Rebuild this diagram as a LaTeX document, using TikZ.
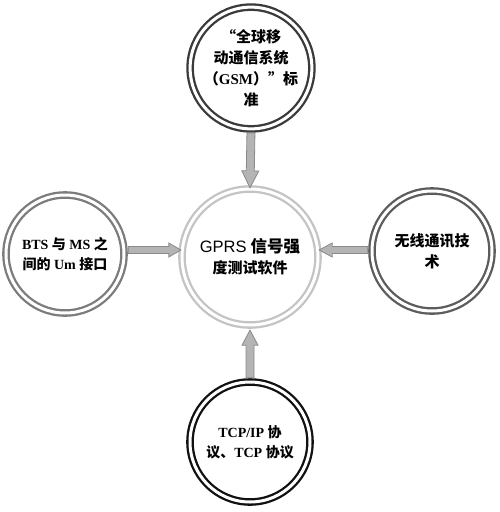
\documentclass[tikz,border=0pt]{standalone}
\usepackage{fontspec}
\setmainfont{Liberation Serif}
\newfontfamily\cjk{Noto Sans CJK SC}
\newfontfamily\gsans{Liberation Sans}
\usetikzlibrary{calc}
\tikzset{
  ringnode/.style={circle, inner sep=0pt, fill=white, double=white,
    double distance=3pt, line width=2.3pt, align=center,
    font=\fontsize{15pt}{21pt}\selectfont\bfseries},
  smalltext/.style={font=\fontsize{14pt}{20pt}\selectfont\bfseries},
  arrowfill/.style={fill=arrowgray, draw=arrowedge, line width=0.8pt, line join=miter},
}
\definecolor{arrowgray}{HTML}{B4B4B4}
\definecolor{arrowedge}{HTML}{8A8A8A}
\definecolor{ringtop}{HTML}{3A3A3A}
\definecolor{ringleft}{HTML}{7C7C7C}
\definecolor{ringright}{HTML}{5C5C5C}
\definecolor{ringbot}{HTML}{111111}
\definecolor{ringmid}{HTML}{C4C4C4}
% #1 from, #2 to, #3 shaft half width, #4 head half width, #5 head length
\newcommand\blockarr[5]{%
  \coordinate (s) at ($(#1)!3pt!(#2)$);
  \coordinate (hb) at ($(#2)!#5!(#1)$);
  \filldraw[arrowfill] ($(s)!#3!90:(#2)$) -- ($(hb)!#3!90:(#2)$) -- ($(hb)!#4!90:(#2)$) -- (#2)
    -- ($(hb)!#4!-90:(#2)$) -- ($(hb)!#3!-90:(#2)$) -- ($(s)!#3!-90:(#2)$) -- cycle;}
\begin{document}
\begin{tikzpicture}[x=1pt,y=-1pt]
\fill[white] (0,0) rectangle (500,512);
\useasboundingbox (0,0) rectangle (500,512);

\node[ringnode, draw=ringmid, minimum size=136pt] (mid) at (250,257)
  {\fontsize{16.5pt}{21pt}\selectfont{\gsans\mdseries GPRS} {\cjk 信号强}\\{\cjk 度测试软件}};

\node[ringnode, draw=ringtop, minimum size=117pt] (top) at (251,68)
  {{\cjk “全球移}\\{\cjk 动通信系统}\\{\cjk （}GSM{\cjk ）”标}\\{\cjk 准}};

\node[ringnode, smalltext, draw=ringleft, minimum size=118pt] (left) at (65,254)
  {BTS {\cjk 与} MS {\cjk 之}\\{\cjk 间的} Um {\cjk 接口}};

\node[ringnode, draw=ringright, minimum size=120pt] (right) at (432,251)
  {{\cjk 无线通讯技}\\{\cjk 术}};

\node[ringnode, smalltext, draw=ringbot, minimum size=120pt] (bot) at (250,442)
  {TCP/IP {\cjk 协}\\{\cjk 议、}TCP {\cjk 协议}};

\coordinate (tA) at (top.south);
\coordinate (tB) at (mid.north);
\blockarr{tA}{tB}{4pt}{8.5pt}{17pt}

\coordinate (bA) at (bot.north);
\coordinate (bB) at ($(mid.south)+(0,4)$);
\blockarr{bA}{bB}{4pt}{8pt}{15pt}

\coordinate (lA) at (left.east |- 0,250);
\coordinate (lB) at (mid.west |- 0,250);
\blockarr{lA}{lB}{3.5pt}{7pt}{12pt}

\coordinate (rA) at (right.west |- 0,250);
\coordinate (rB) at (mid.east |- 0,250);
\blockarr{rA}{rB}{3.5pt}{7pt}{13pt}
\end{tikzpicture}
\end{document}
